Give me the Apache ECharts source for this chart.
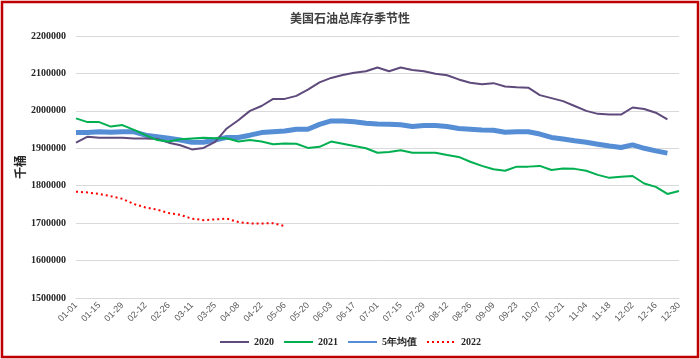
<!DOCTYPE html>
<html>
<head>
<meta charset="utf-8">
<script src="https://cdn.jsdelivr.net/npm/echarts@6/dist/echarts.min.js"></script>
<style>
html,body{margin:0;padding:0;background:#fff;}
#c{width:700px;height:359px;}
</style>
</head>
<body>
<div id="c"></div>
<script>
var categories = ['01-01','01-08','01-15','01-22','01-29','02-05','02-12','02-19','02-26','03-04','03-11','03-18','03-25','04-01','04-08','04-15','04-22','04-29','05-06','05-13','05-20','05-27','06-03','06-10','06-17','06-24','07-01','07-08','07-15','07-22','07-29','08-05','08-12','08-19','08-26','09-02','09-09','09-16','09-23','09-30','10-07','10-14','10-21','10-28','11-04','11-11','11-18','11-25','12-02','12-09','12-16','12-23','12-30'];

var s2020 = [1915000,1931000,1928000,1928000,1928000,1926000,1926000,1925000,1915000,1908000,1897000,1901000,1917000,1953000,1975000,2000000,2013000,2032000,2032000,2040000,2057000,2076000,2088000,2096000,2102000,2106000,2116000,2106000,2116000,2109000,2106000,2099000,2095000,2084000,2075000,2071000,2074000,2065000,2063000,2062000,2042000,2034000,2026000,2013000,2000000,1992000,1990000,1990000,2009000,2005000,1995000,1977000];

var s2021 = [1980000,1970000,1970000,1958000,1962000,1949000,1935000,1922000,1918000,1924000,1926000,1928000,1927000,1927000,1918000,1922000,1918000,1911000,1913000,1912000,1901000,1904000,1918000,1912000,1906000,1900000,1888000,1890000,1895000,1888000,1888000,1888000,1882000,1877000,1864000,1853000,1844000,1840000,1851000,1851000,1853000,1842000,1846000,1845000,1840000,1829000,1821000,1824000,1826000,1806000,1797000,1778000,1786000];

var avg5 = [1942000,1942000,1944000,1943000,1944000,1944000,1935000,1931000,1927000,1922000,1916000,1916000,1922000,1929000,1929000,1935000,1942000,1944000,1946000,1951000,1951000,1964000,1973000,1973000,1971000,1967000,1965000,1964000,1963000,1958000,1961000,1961000,1958000,1953000,1951000,1949000,1948000,1943000,1944000,1944000,1938000,1929000,1925000,1920000,1916000,1911000,1906000,1902000,1909000,1900000,1893000,1887000];

var s2022 = [1784000,1782000,1778000,1772000,1765000,1751000,1742000,1736000,1727000,1722000,1712000,1708000,1710000,1712000,1703000,1699000,1699000,1700000,1692000];

var seriesNames = ['2020','2021','5年均值','2022'];
var titleText = '美国石油总库存季节性';
var yName = '千桶';

var chart = echarts.init(document.getElementById('c'), null, {renderer:'canvas'});
chart.setOption({
  animation: false,
  backgroundColor: '#fff',
  title: {
    text: titleText,
    left: 'center',
    top: 7,
    textStyle: {fontFamily: 'Noto Sans CJK SC', fontSize: 12, fontWeight: 'bold', color: '#404040'}
  },
  graphic: [{
    type: 'rect',
    shape: {x: 2, y: 2, width: 696, height: 355},
    style: {fill: 'none', stroke: '#C00000', lineWidth: 2.5},
    silent: true,
    z: 100
  }],
  legend: {
    bottom: 7,
    left: 'center',
    itemWidth: 29,
    itemHeight: 10,
    itemGap: 9,
    itemStyle: {opacity: 0},
    textStyle: {fontFamily: 'Liberation Serif', fontSize: 10, fontWeight: 'bold', color: '#262626'},
    data: seriesNames
  },
  grid: {left: 76, right: 21, top: 36, bottom: 61},
  xAxis: {
    type: 'category',
    data: categories,
    boundaryGap: false,
    axisLine: {show: true, lineStyle: {color: '#D9D9D9'}},
    axisTick: {show: false},
    axisLabel: {interval: 1, rotate: 45, fontFamily: 'Liberation Sans', fontSize: 9, color: '#595959', margin: 6}
  },
  yAxis: {
    type: 'value',
    min: 1500000,
    max: 2200000,
    interval: 100000,
    name: yName,
    nameLocation: 'middle',
    nameRotate: 90,
    nameGap: 50,
    nameMoveOverlap: false,
    nameTextStyle: {fontFamily: 'Noto Sans CJK SC', fontSize: 12, fontWeight: 'bold', color: '#262626'},
    axisLine: {show: false},
    axisTick: {show: false},
    axisLabel: {fontFamily: 'Liberation Serif', fontSize: 10, fontWeight: 'bold', color: '#262626', margin: 10,
      formatter: function(v){ return String(v); }},
    splitLine: {lineStyle: {color: '#D9D9D9', width: 1}}
  },
  series: [
    {name: '2020', type: 'line', data: s2020, showSymbol: false, symbol: 'none',
     lineStyle: {color: '#5F4A7C', width: 2}, itemStyle: {color: '#5F4A7C'}, z: 3},
    {name: '2021', type: 'line', data: s2021, showSymbol: false, symbol: 'none',
     lineStyle: {color: '#00B050', width: 2}, itemStyle: {color: '#00B050'}, z: 3},
    {name: '5年均值', type: 'line', data: avg5, showSymbol: false, symbol: 'none',
     lineStyle: {color: '#558ED5', width: 5}, itemStyle: {color: '#558ED5'}, z: 2},
    {name: '2022', type: 'line', data: s2022, showSymbol: false, symbol: 'none',
     lineStyle: {color: '#FF0000', width: 2, type: [2, 3]}, itemStyle: {color: '#FF0000'}, z: 4}
  ]
});
</script>
</body>
</html>
